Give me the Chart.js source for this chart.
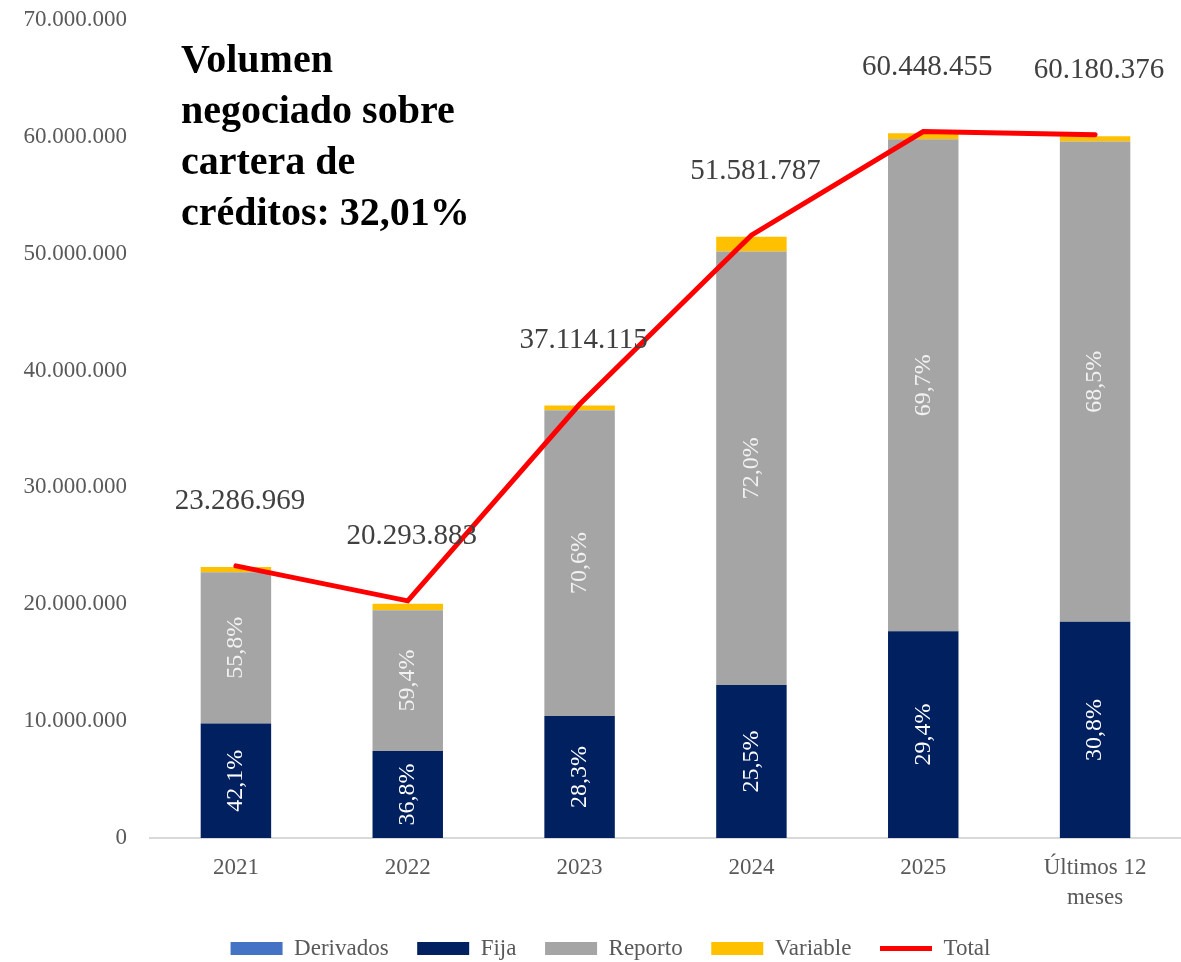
<!DOCTYPE html>
<html>
<head>
<meta charset="utf-8">
<script src="https://cdn.jsdelivr.net/npm/chart.js@4"></script>
<style>
  html, body { margin: 0; padding: 0; background: #fff; }
  #wrap { width: 1181px; height: 962px; }
</style>
</head>
<body>
<div id="wrap"><canvas id="volChart" width="1181" height="962"></canvas></div>
<script>
const CATEGORIES = ['2021', '2022', '2023', '2024', '2025', ['Últimos 12', 'meses']];
const DERIVADOS = [0, 0, 0, 0, 0, 0];
const FIJA = [9800000, 7450000, 10450000, 13100000, 17700000, 18500000];
const REPORTO = [12950000, 12050000, 26150000, 37100000, 42100000, 41100000];
const VARIABLE = [450000, 550000, 420000, 1250000, 500000, 450000];
const TOTAL = [23286969, 20293883, 37114115, 51581787, 60448455, 60180376];
const FIJA_PCT = ['42,1%', '36,8%', '28,3%', '25,5%', '29,4%', '30,8%'];
const REPORTO_PCT = ['55,8%', '59,4%', '70,6%', '72,0%', '69,7%', '68,5%'];
const TITLE_LINES = ['Volumen', 'negociado sobre', 'cartera de', 'créditos: 32,01%'];

const SERIF = '"Liberation Serif", "DejaVu Serif", serif';

const fmtDots = (v) => String(Math.round(v)).replace(/\B(?=(\d{3})+(?!\d))/g, '.');

// percentage labels inside bars, totals over the line, and the title
const barLabels = {
    id: 'barLabels',
    afterLayout(chart) {
        // legend sits a bit right of the canvas centre
        chart.legend.left += 40;
    },
    afterDatasetsDraw(chart) {
        const ctx = chart.ctx;
        ctx.save();
        ctx.font = '24px ' + SERIF;
        ctx.textAlign = 'center';
        ctx.textBaseline = 'middle';
        [[1, FIJA_PCT, '#FFFFFF'], [2, REPORTO_PCT, '#F2F2F2']].forEach(([idx, labels, col]) => {
            ctx.fillStyle = col;
            chart.getDatasetMeta(idx).data.forEach((bar, i) => {
                const mid = (bar.y + bar.base) / 2;
                ctx.save();
                ctx.translate(bar.x, mid);
                ctx.rotate(-Math.PI / 2);
                ctx.fillText(labels[i], 0, 0);
                ctx.restore();
            });
        });
        ctx.font = '29px ' + SERIF;
        ctx.fillStyle = '#404040';
        chart.getDatasetMeta(4).data.forEach((pt, i) => {
            ctx.fillText(fmtDots(TOTAL[i]), pt.x + 4, pt.y - 64);
        });
        ctx.font = 'bold 40px ' + SERIF;
        ctx.fillStyle = '#000000';
        ctx.textAlign = 'left';
        ctx.textBaseline = 'alphabetic';
        TITLE_LINES.forEach((line, i) => {
            ctx.fillText(line, 181, 72 + i * 51);
        });
        ctx.restore();
    }
};

const volCtx = document.getElementById('volChart').getContext('2d');
const volChart = new Chart(volCtx, {
    type: 'bar',
    data: {
        labels: CATEGORIES,
        datasets: [{
            label: 'Derivados',
            data: DERIVADOS,
            backgroundColor: '#4472C4',
            pointStyle: 'rect',
            stack: 'bars',
            order: 1
        }, {
            label: 'Fija',
            data: FIJA,
            backgroundColor: '#002060',
            pointStyle: 'rect',
            stack: 'bars',
            order: 1
        }, {
            label: 'Reporto',
            data: REPORTO,
            backgroundColor: '#A5A5A5',
            pointStyle: 'rect',
            stack: 'bars',
            order: 1
        }, {
            label: 'Variable',
            data: VARIABLE,
            backgroundColor: '#FFC000',
            pointStyle: 'rect',
            stack: 'bars',
            order: 1
        }, {
            type: 'line',
            label: 'Total',
            data: TOTAL,
            borderColor: '#FF0000',
            backgroundColor: '#FF0000',
            borderWidth: 5,
            borderCapStyle: 'round',
            pointStyle: 'line',
            pointRadius: 0,
            fill: false,
            stack: 'total',
            order: 0
        }]
    },
    options: {
        responsive: false,
        animation: false,
        layout: { padding: { top: 0, left: 0, right: 0, bottom: -8 } },
        datasets: {
            bar: { barPercentage: 0.41, categoryPercentage: 1.0 }
        },
        scales: {
            x: {
                stacked: true,
                grid: { display: false, drawTicks: false },
                border: { color: '#D9D9D9', width: 2 },
                afterFit(scale) { scale.height = 98; },
                ticks: {
                    color: '#595959',
                    font: { family: SERIF, size: 23, lineHeight: 1.3 },
                    padding: 15,
                    maxRotation: 0
                }
            },
            y: {
                stacked: true,
                min: 0,
                max: 70000000,
                afterFit(scale) {
                    scale.width = 150;
                    scale.paddingTop = 20;
                    scale.paddingBottom = 0;
                },
                grid: { display: false, drawTicks: false },
                border: { display: false },
                ticks: {
                    stepSize: 10000000,
                    color: '#595959',
                    font: { family: SERIF, size: 23 },
                    padding: 23,
                    callback: (v) => fmtDots(v)
                }
            }
        },
        plugins: {
            tooltip: { enabled: false },
            legend: {
                position: 'bottom',
                labels: {
                    color: '#595959',
                    font: { family: SERIF, size: 23 },
                    usePointStyle: true,
                    pointStyleWidth: 52,
                    boxHeight: 13,
                    padding: 1,
                    sort: (a, b) => a.datasetIndex - b.datasetIndex,
                    generateLabels(chart) {
                        const items = Chart.defaults.plugins.legend.labels.generateLabels(chart);
                        items.forEach((it) => {
                            if (it.datasetIndex !== 4) it.text += '\u2003\u2009';
                        });
                        return items;
                    }
                }
            }
        }
    },
    plugins: [barLabels]
});
</script>
</body>
</html>
